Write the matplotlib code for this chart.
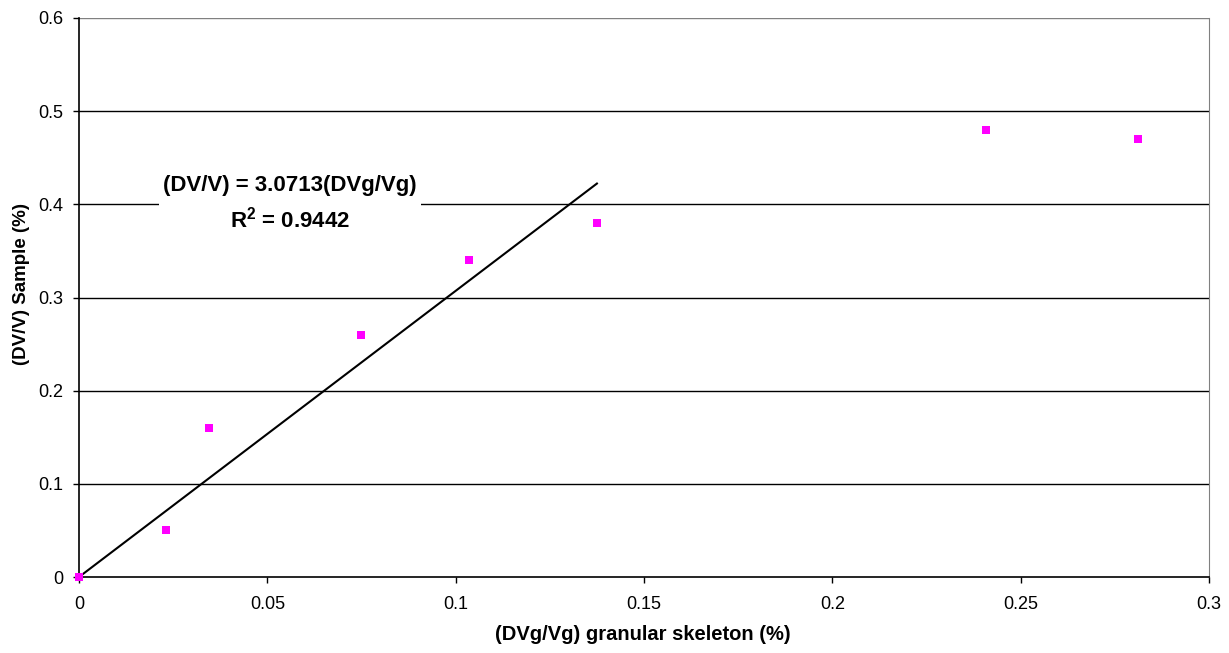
import matplotlib
matplotlib.use("Agg")
import matplotlib.pyplot as plt

plt.rcParams['font.family'] = ['Liberation Sans', 'DejaVu Sans']
plt.rcParams['mathtext.fontset'] = 'custom'
plt.rcParams['mathtext.rm'] = 'Liberation Sans'
plt.rcParams['mathtext.bf'] = 'Liberation Sans:bold'

# Measured strain data
skeleton_strain = [0.0, 0.0231, 0.0345, 0.0749, 0.1035, 0.1375, 0.2408, 0.2812]
sample_strain = [0.0, 0.05, 0.16, 0.26, 0.34, 0.38, 0.48, 0.47]

# Linear fit through origin
slope = 3.0713
r_squared = 0.9442
fit_x = [0.0, 0.1375]

x_ticks = [0, 0.05, 0.1, 0.15, 0.2, 0.25, 0.3]
x_tick_labels = ['0', '0.05', '0.1', '0.15', '0.2', '0.25', '0.3']
y_ticks = [0, 0.1, 0.2, 0.3, 0.4, 0.5, 0.6]
y_tick_labels = ['0', '0.1', '0.2', '0.3', '0.4', '0.5', '0.6']

fig = plt.figure(figsize=(12.29, 6.53), dpi=100)
ax = fig.add_axes([79/1229, 76/653, 1130/1229, 559/653])

ax.set_xlim(0, 0.3)
ax.set_ylim(0, 0.6)

for yv in y_ticks[1:]:
    ax.axhline(yv, color='black' if yv < 0.6 else '#808080', lw=1.0, zorder=1)

fit_y = [slope * v for v in fit_x]
ax.plot(fit_x, fit_y, color='black', lw=1.5, zorder=3)

ax.scatter(skeleton_strain, sample_strain, marker='s', s=28, color='#FF00FF',
           linewidths=0, zorder=4, clip_on=False)

ax.text(0.0560, 0.4005, f"(DV/V) = {slope:.4f}(DVg/Vg)\n" + r"R$^\mathbf{2}$" + f" = {r_squared:.4f}",
        ha='center', va='center', fontsize=16, fontweight='bold', linespacing=1.5,
        bbox=dict(facecolor='white', edgecolor='none', pad=3), zorder=5)

ax.set_xticks(x_ticks)
ax.set_xticklabels(x_tick_labels)
ax.set_yticks(y_ticks)
ax.set_yticklabels(y_tick_labels)
ax.tick_params(axis='both', direction='out', length=4.5, width=1, labelsize=13, color='black')
ax.tick_params(axis='x', pad=9.5)
ax.tick_params(axis='y', pad=6.5)

for side in ['left', 'bottom']:
    ax.spines[side].set_color('black')
    ax.spines[side].set_linewidth(1.2)
ax.spines['right'].set_color('#808080')
ax.spines['top'].set_visible(False)

ax.set_xlabel('(DVg/Vg) granular skeleton (%)', fontsize=14.5, fontweight='bold')
ax.set_ylabel('(DV/V) Sample (%)', fontsize=13.5, fontweight='bold')
ax.xaxis.set_label_coords(0.4987, -0.102)
ax.xaxis.label.set_va('center')
ax.yaxis.set_label_coords(-0.0505, 0.524)
ax.yaxis.label.set_va('center')

fig.savefig('out.png', dpi=100)
